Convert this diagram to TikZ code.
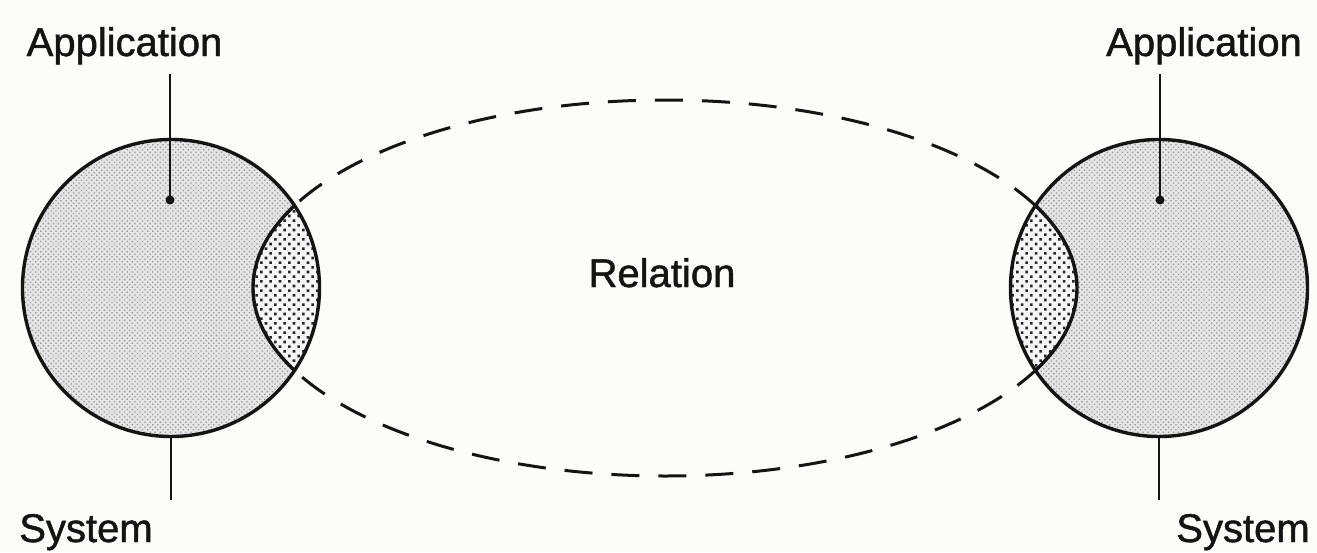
\documentclass[tikz,border=0pt]{standalone}
\usepackage{fontspec}
\setmainfont{Liberation Sans}
\newfontfamily\lblfont[FakeBold=1.2]{Liberation Sans}
\usetikzlibrary{patterns.meta}
\definecolor{paper}{RGB}{252,252,248}
\definecolor{ink}{RGB}{20,20,20}
\tikzset{
  relpath/.style={line width=3pt, draw=ink, dash pattern=on 28pt off 19pt},
  lbl/.style={font=\lblfont\fontsize{40}{48}\selectfont, anchor=base, inner sep=0pt, text=ink},
  lead/.style={line width=2.4pt, draw=ink},
  pin/.style={circle, fill=ink, inner sep=0pt, minimum size=9pt},
  lightdots/.style={pattern={Dots[distance=3.6pt, radius=0.9pt, angle=45]}, pattern color=gray!85},
  darkdots/.style={pattern={Dots[distance=6.6pt, radius=1.8pt, angle=45]}, pattern color=black!85},
  body/.style={circle, minimum size=297pt, inner sep=0pt, draw=ink, line width=3.4pt,
    path picture={
      \fill[gray!20] (path picture bounding box.south west) rectangle (path picture bounding box.north east);
      \fill[lightdots] (path picture bounding box.south west) rectangle (path picture bounding box.north east);
      \fill[gray!8] (E) ellipse [x radius=412pt, y radius=188pt];
      \fill[darkdots] (E) ellipse [x radius=412pt, y radius=188pt];
      \draw[line width=3.4pt, draw=ink] (E) ellipse [x radius=412pt, y radius=188pt];
    }},
}
\begin{document}
\begin{tikzpicture}[x=1pt,y=-1pt]
\fill[paper] (0,0) rectangle (1317,552);
\useasboundingbox (0,0) rectangle (1317,552);

\coordinate (E) at (665,288);
\draw[relpath] (E) ellipse [x radius=412pt, y radius=188pt];

\node[body] (L) at (171,288) {};
\node[body] (R) at (1159,288) {};

\node[lbl] (rel) at (662,287) {Relation};

% left labels
\node[lbl] (LA) at (124.5,56) {Application};
\coordinate (LAt) at (170,74);
\node[pin] (Ld) at (170,200) {};
\draw[lead] (LAt) -- (Ld.center);
\coordinate (LSt) at (171,500);
\draw[lead] (L.south) -- (LSt);
\node[lbl] (LS) at (86,542) {System};

% right labels
\node[lbl] (RA) at (1204,56) {Application};
\coordinate (RAt) at (1160,74);
\node[pin] (Rd) at (1160,200) {};
\draw[lead] (RAt) -- (Rd.center);
\coordinate (RSt) at (1159,500);
\draw[lead] (R.south) -- (RSt);
\node[lbl] (RS) at (1243,542) {System};
\end{tikzpicture}
\end{document}
